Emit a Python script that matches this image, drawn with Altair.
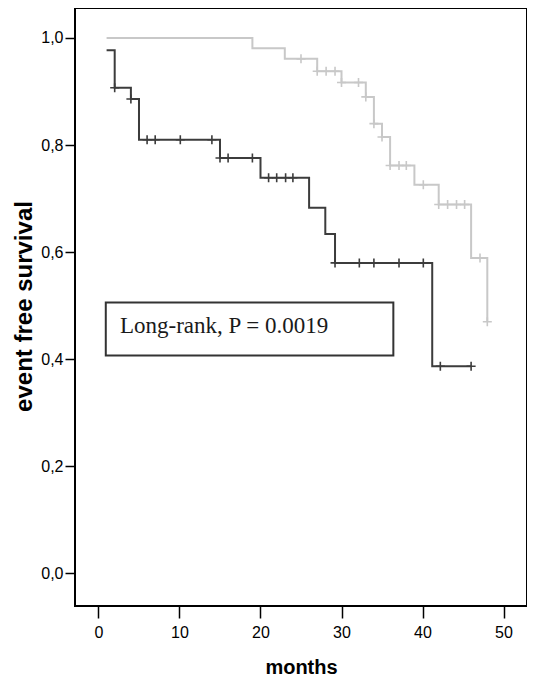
import altair as alt
import pandas as pd

# Kaplan-Meier steps (months, event free survival)
dark_t = [1, 2, 4, 5, 15, 20, 26, 28, 29.2, 41.2, 46]
dark_s = [0.977, 0.907, 0.886, 0.810, 0.776, 0.739, 0.683, 0.634, 0.580, 0.387, 0.387]
light_t = [1, 19, 23, 27, 30, 33, 34, 35, 36, 39, 42, 46, 48]
light_s = [1.0, 0.981, 0.961, 0.938, 0.917, 0.890, 0.840, 0.815, 0.762, 0.726, 0.689, 0.589, 0.470]

# censored observations
dark_cens_t = [2, 4, 6, 7, 10.1, 14, 15, 16, 19, 21, 22, 23.1, 24, 29.2, 32.2, 34, 37.1, 40.1, 42.2, 46]
dark_cens_s = [0.907, 0.886, 0.810, 0.810, 0.810, 0.810, 0.776, 0.776, 0.776, 0.739, 0.739, 0.739, 0.739,
               0.580, 0.580, 0.580, 0.580, 0.580, 0.387, 0.387]
light_cens_t = [25, 27, 28.1, 29.2, 30, 32.1, 33, 34, 35, 36, 37.1, 38, 40.1, 42, 43.1, 44.2, 45.2, 47.1, 48]
light_cens_s = [0.961, 0.938, 0.938, 0.938, 0.917, 0.917, 0.890, 0.840, 0.815, 0.762, 0.762, 0.762, 0.726,
                0.689, 0.689, 0.689, 0.689, 0.589, 0.470]

groups = ["dark", "light"]
colors = ["#3c3c3c", "#c8c8c8"]

annot_text = ["Long-rank, P = 0.0019"]
annot_box = {"x1": [0.9], "x2": [36.4], "y1": [0.407], "y2": [0.506]}
annot_pos = {"x": [2.65], "y": [0.449]}

x_ticks = [0, 10, 20, 30, 40, 50]
y_ticks = [0.0, 0.2, 0.4, 0.6, 0.8, 1.0]

lines = pd.DataFrame({
    "t": dark_t + light_t,
    "s": dark_s + light_s,
    "g": ["dark"] * len(dark_t) + ["light"] * len(light_t),
    "o": list(range(len(dark_t))) + list(range(len(light_t))),
})
cens = pd.DataFrame({
    "t": dark_cens_t + light_cens_t,
    "s": dark_cens_s + light_cens_s,
    "g": ["dark"] * len(dark_cens_t) + ["light"] * len(light_cens_t),
})
box = pd.DataFrame(annot_box)
txt = pd.DataFrame({"x": annot_pos["x"], "y": annot_pos["y"], "label": annot_text})

xscale = alt.Scale(domain=[-2.9, 52.9], nice=False, zero=False)
yscale = alt.Scale(domain=[-0.0607, 1.056], nice=False, zero=False)
cscale = alt.Scale(domain=groups, range=colors)

xaxis = alt.Axis(values=x_ticks, title="months", domain=False, grid=False, tickSize=12,
                 tickColor="black", tickWidth=1.5, labelFont="Liberation Sans", labelFontSize=16,
                 labelColor="black", labelPadding=6, titleFont="Liberation Sans", titleFontSize=20,
                 titleFontWeight="bold", titleColor="black", titleBaseline="alphabetic",
                 titleY=67, titleX=226)
yaxis = alt.Axis(values=y_ticks, title="event free survival", domain=False, grid=False, tickSize=10,
                 tickColor="black", tickWidth=1.5, labelFont="Liberation Sans", labelFontSize=16,
                 labelColor="black", labelPadding=2,
                 labelExpr="replace(format(datum.value, '.1f'), '.', ',')",
                 titleFont="Liberation Sans", titleFontSize=24, titleFontWeight="bold",
                 titleColor="black", titleBaseline="alphabetic", titleAngle=-90,
                 titleX=-44, titleY=298, titleAlign="center")

line_layer = alt.Chart(lines).mark_line(interpolate="step-after", strokeWidth=2).encode(
    x=alt.X("t:Q", scale=xscale, axis=xaxis),
    y=alt.Y("s:Q", scale=yscale, axis=yaxis),
    color=alt.Color("g:N", scale=cscale, legend=None),
    detail="g:N",
    order="o:Q",
)

cens_layer = alt.Chart(cens).mark_point(shape="M-1,0L1,0M0,-1L0,1", size=81, filled=False,
                                        strokeWidth=1.6, opacity=1).encode(
    x=alt.X("t:Q", scale=xscale),
    y=alt.Y("s:Q", scale=yscale),
    stroke=alt.Color("g:N", scale=cscale, legend=None),
)

box_layer = alt.Chart(box).mark_rect(fill="white", stroke="#333333", strokeWidth=2).encode(
    x=alt.X("x1:Q", scale=xscale), x2="x2:Q",
    y=alt.Y("y1:Q", scale=yscale), y2="y2:Q",
)

text_layer = alt.Chart(txt).mark_text(align="left", baseline="alphabetic", font="Liberation Serif",
                                      fontSize=23, color="#1a1a1a").encode(
    x=alt.X("x:Q", scale=xscale),
    y=alt.Y("y:Q", scale=yscale),
    text="label:N",
)

chart = alt.layer(line_layer, cens_layer, box_layer, text_layer).properties(
    width=452, height=598,
    autosize=alt.AutoSizeParams(type="none"),
    padding={"left": 67, "top": 0, "right": 0, "bottom": 73},
    background="white",
).configure_view(stroke="black", strokeWidth=2)

chart.save("out.html", embed_options={"renderer": "svg", "actions": False})
